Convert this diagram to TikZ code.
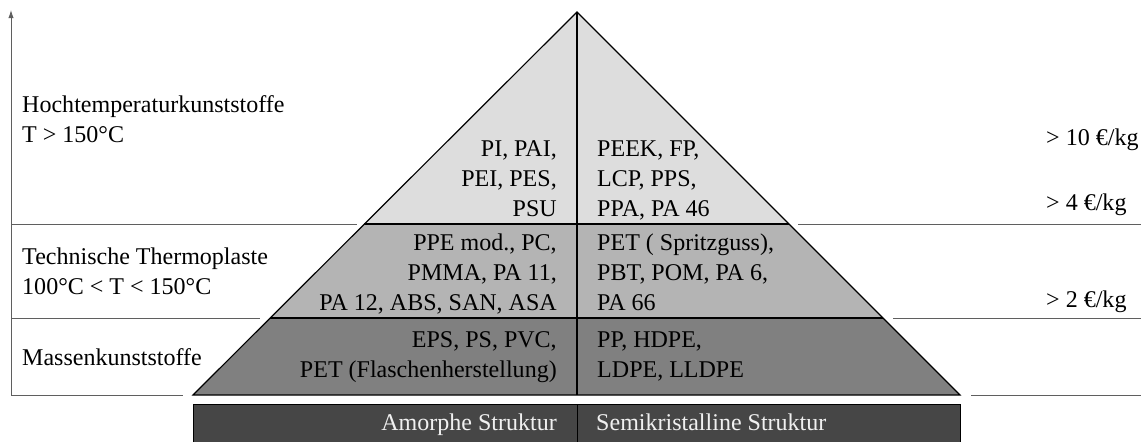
\documentclass[tikz,border=0pt]{standalone}
\usepackage{fontspec}
\setmainfont{Liberation Serif}
\usepackage{tikz}
\usetikzlibrary{arrows.meta, calc}
\definecolor{tierhigh}{RGB}{221, 221, 221}
\definecolor{tiertech}{RGB}{180, 180, 180}
\definecolor{tiermass}{RGB}{128, 128, 128}
\definecolor{basebar}{RGB}{70, 70, 70}
\definecolor{rulegray}{RGB}{95, 95, 95}
\definecolor{barink}{RGB}{240, 240, 240}
\tikzset{
    txt/.style     ={font=\fontsize{20.5}{25.2}\selectfont, inner sep=0pt},
    amtxt/.style   ={txt, align=right, anchor=base east},
    semitxt/.style ={txt, align=left, anchor=base west},
    sidetxt/.style ={txt, align=left, anchor=base west},
    edge/.style    ={draw=black, line width=1pt},
    sep/.style     ={draw=rulegray, line width=0.8pt},
    axis/.style    ={-{Latex[length=2.4mm, width=1.6mm]}, draw=rulegray, line width=0.8pt}
}

\begin{document}
\begin{tikzpicture}[x=0.03cm, y=-0.03cm]
  \clip (0,0) rectangle (1141,441);

  % pyramid corners and tier borders
  \coordinate (apex) at (577,12);
  \coordinate (bl)   at (193,395);
  \coordinate (br)   at (960,395);
  \coordinate (bm)   at (577,395);
  \coordinate (hl)   at ($(apex)!0.5535!(bl)$);
  \coordinate (hr)   at ($(apex)!0.5535!(br)$);
  \coordinate (tl)   at ($(apex)!0.799!(bl)$);
  \coordinate (tr)   at ($(apex)!0.799!(br)$);

  \fill[tierhigh] (apex) -- (hr) -- (hl) -- cycle;
  \fill[tiertech] (hl) -- (hr) -- (tr) -- (tl) -- cycle;
  \fill[tiermass] (tl) -- (tr) -- (br) -- (bl) -- cycle;
  \draw[edge] (apex) -- (bl) -- (br) -- cycle;
  \draw[edge] (hl) -- (hr);
  \draw[edge] (tl) -- (tr);
  \draw[edge] (apex) -- (bm);

  % axis and class borders
  \coordinate (axbot) at (11,395);
  \coordinate (axtop) at (11,10);
  \draw[axis] (axbot) -- (axtop);
  \draw[sep] (11,224) -- (357,224);
  \draw[sep] (11,318) -- (260,318);
  \draw[sep] (axbot) -- (183,395);
  \draw[sep] (798,224) -- (1141,224);
  \draw[sep] (893,318) -- (1141,318);
  \draw[sep] (971,395) -- (1141,395);

  % structure bar
  \coordinate (barnw) at (193,404);
  \coordinate (barse) at (960,450);
  \draw[fill=basebar, draw=black, line width=0.8pt] (barnw) rectangle (barse);
  \draw[draw=black, line width=0.8pt] (577,404) -- (577,450);

  % classes (base = last line)
  \node[sidetxt] (high) at (22,142) {Hochtemperaturkunststoffe\\T > 150°C};
  \node[sidetxt] (tech) at (22,294) {Technische Thermoplaste\\100°C < T < 150°C};
  \node[sidetxt] (mass) at (22,365) {Massenkunststoffe};

  % prices
  \node[sidetxt] (p10) at (1046,145) {> 10 €/kg};
  \node[sidetxt] (p4)  at (1046,210) {> 4 €/kg};
  \node[sidetxt] (p2)  at (1046,307) {> 2 €/kg};

  % polymers
  \node[amtxt]   (amhigh) at (557,216) {PI, PAI,\\PEI, PES,\\PSU};
  \node[semitxt] (sehigh) at (597,216) {PEEK, FP,\\LCP, PPS,\\PPA, PA 46};
  \node[amtxt]   (amtech) at (557,310) {PPE mod., PC,\\PMMA, PA 11,\\PA 12, ABS, SAN, ASA};
  \node[semitxt] (setech) at (597,310) {PET ( Spritzguss),\\PBT, POM, PA 6,\\PA 66};
  \node[amtxt]   (ammass) at (557,377) {EPS, PS, PVC,\\PET (Flaschenherstellung)};
  \node[semitxt] (semass) at (597,377) {PP, HDPE,\\LDPE, LLDPE};

  % structure labels
  \node[amtxt, text=barink]   (amorph) at (557,430) {Amorphe Struktur};
  \node[semitxt, text=barink] (semi)   at (596,430) {Semikristalline Struktur};
\end{tikzpicture}
\end{document}
